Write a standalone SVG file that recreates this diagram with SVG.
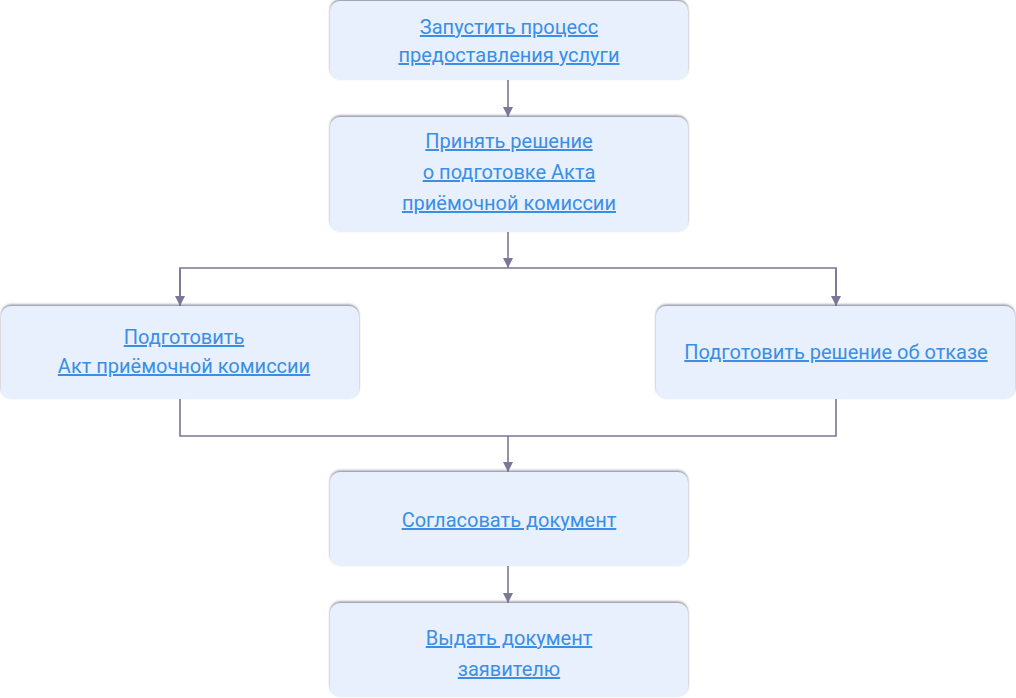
<svg xmlns="http://www.w3.org/2000/svg" width="1016" height="698" viewBox="0 0 1016 698">
<style>
.box{fill:#e8f0fd;filter:url(#sh)}
.t{font-family:Roboto,"Noto Sans",sans-serif;font-size:20px;fill:#3a8ee6;text-anchor:middle;text-decoration:underline}
.c{fill:none;stroke:#7a7797;stroke-width:1.6}
</style>
<defs>
<filter id="sh" x="-5%" y="-10%" width="110%" height="120%">
<feDropShadow dx="0" dy="-1.5" stdDeviation="1.3" flood-color="#6f7588" flood-opacity="0.8"/>
</filter>
<marker id="a" viewBox="0 0 10 10" refX="10" refY="5" markerWidth="10" markerHeight="10" markerUnits="userSpaceOnUse" orient="auto">
<path d="M0,0 L10,5 L0,10 z" fill="#7a7797"/>
</marker>
</defs>
<g id="connectors">
<path class="c" d="M508,80 V117" marker-end="url(#a)"/>
<path class="c" d="M508,232 V268" marker-end="url(#a)"/>
<path class="c" d="M180,306 V268 H836 V306" />
<path class="c" d="M180,268 V306" marker-end="url(#a)"/>
<path class="c" d="M836,268 V306" marker-end="url(#a)"/>
<path class="c" d="M180,399 V436 H836 V399"/>
<path class="c" d="M508,436 V472" marker-end="url(#a)"/>
<path class="c" d="M508,566 V603" marker-end="url(#a)"/>
</g>
<g id="n1"><rect class="box" x="330" y="1" width="358" height="79" rx="10"/>
<text class="t" x="509" y="34">Запустить процесс</text>
<text class="t" x="509" y="62">предоставления услуги</text></g>
<g id="n2"><rect class="box" x="330" y="117" width="358" height="115" rx="10"/>
<text class="t" x="509" y="148">Принять решение</text>
<text class="t" x="509" y="179">о подготовке Акта</text>
<text class="t" x="509" y="210">приёмочной комиссии</text></g>
<g id="n3"><rect class="box" x="1" y="306" width="358" height="93" rx="10"/>
<text class="t" x="184" y="344">Подготовить</text>
<text class="t" x="184" y="373">Акт приёмочной комиссии</text></g>
<g id="n4"><rect class="box" x="656" y="306" width="359" height="93" rx="10"/>
<text class="t" x="836" y="359">Подготовить решение об отказе</text></g>
<g id="n5"><rect class="box" x="330" y="472" width="358" height="94" rx="10"/>
<text class="t" x="509" y="527">Согласовать документ</text></g>
<g id="n6"><rect class="box" x="330" y="603" width="358" height="94" rx="10"/>
<text class="t" x="509" y="645">Выдать документ</text>
<text class="t" x="509" y="676">заявителю</text></g>
</svg>
